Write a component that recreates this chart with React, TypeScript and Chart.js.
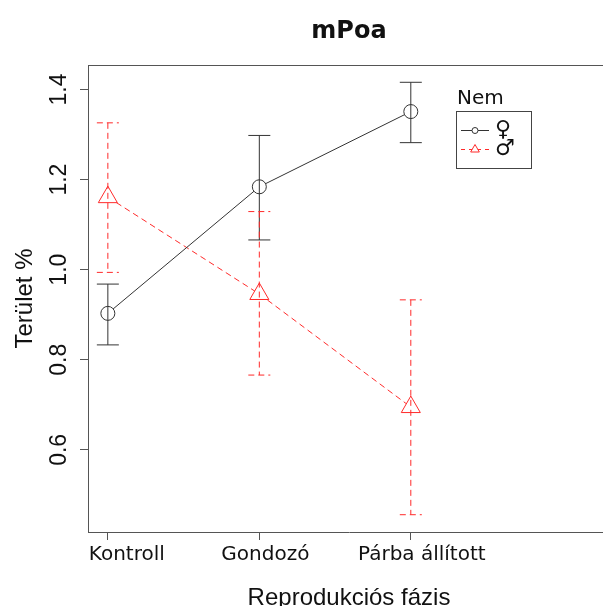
import React, { useEffect, useRef } from "react";
import { Chart, registerables } from "chart.js";

Chart.register(...registerables);

const categories = ["Kontroll", "Gondozó", "Párba állított"];
const seriesNames = ["♀", "♂"];
const femaleMean = [0.903, 1.184, 1.351];
const femaleUpper = [0.968, 1.298, 1.416];
const femaleLower = [0.833, 1.066, 1.282];
const maleMean = [1.161, 0.946, 0.695];
const maleUpper = [1.326, 1.129, 0.933];
const maleLower = [0.994, 0.766, 0.456];
const yTicks = [0.6, 0.8, 1.0, 1.2, 1.4];
const yTickLabels = ["0.6", "0.8", "1.0", "1.2", "1.4"];

const TITLE = "mPoa";
const X_TITLE = "Reprodukciós fázis";
const Y_TITLE = "Terület %";
const LEGEND_TITLE = "Nem";

const FEMALE_COLOR = "#333333";
const MALE_COLOR = "#ff2a2a";
const AXIS_COLOR = "#555555";
const MALE_DASH = [6, 4];
const xLabelShift = [19, 6, 11];

export default function App() {
  const ref = useRef<HTMLCanvasElement | null>(null);

  useEffect(() => {
    if (!ref.current) return;

    const overlay = {
      id: "overlay",
      afterDatasetsDraw(chart: any) {
        const { ctx, scales } = chart;
        const x = scales.x;
        const y = scales.y;
        const drawBars = (lo: number[], hi: number[], color: string, dash: number[]) => {
          ctx.save();
          ctx.strokeStyle = color;
          ctx.lineWidth = 1;
          ctx.setLineDash(dash);
          const cap = 11;
          for (let i = 0; i < categories.length; i++) {
            const px = x.getPixelForValue(i + 1);
            const pt = y.getPixelForValue(hi[i]);
            const pb = y.getPixelForValue(lo[i]);
            ctx.beginPath();
            ctx.moveTo(px, pt);
            ctx.lineTo(px, pb);
            ctx.moveTo(px - cap, pt);
            ctx.lineTo(px + cap, pt);
            ctx.moveTo(px - cap, pb);
            ctx.lineTo(px + cap, pb);
            ctx.stroke();
          }
          ctx.restore();
        };
        drawBars(femaleLower, femaleUpper, FEMALE_COLOR, []);
        drawBars(maleLower, maleUpper, MALE_COLOR, MALE_DASH);
      },
      afterDraw(chart: any) {
        const { ctx, chartArea, scales } = chart;
        const x = scales.x;
        const y = scales.y;
        const cx = (chartArea.left + chartArea.right) / 2;
        const cy = (chartArea.top + chartArea.bottom) / 2;
        ctx.save();
        // top border
        ctx.strokeStyle = AXIS_COLOR;
        ctx.lineWidth = 1;
        ctx.beginPath();
        ctx.moveTo(chartArea.left, Math.round(chartArea.top) + 0.5);
        ctx.lineTo(chartArea.right, Math.round(chartArea.top) + 0.5);
        ctx.stroke();

        ctx.fillStyle = "#111";
        // main title
        ctx.font = "bold 24px 'DejaVu Sans'";
        ctx.textAlign = "center";
        ctx.textBaseline = "alphabetic";
        ctx.fillText(TITLE, cx, 38);

        // x tick labels
        ctx.font = "20px 'DejaVu Sans'";
        categories.forEach((c, i) => {
          ctx.fillText(c, x.getPixelForValue(i + 1) + xLabelShift[i], 560);
        });

        // x title
        ctx.font = "24px 'Liberation Sans'";
        ctx.fillText(X_TITLE, cx, 605);

        // y tick labels (rotated)
        ctx.font = "23px 'Liberation Sans'";
        yTicks.forEach((v, i) => {
          const py = y.getPixelForValue(v);
          ctx.save();
          ctx.translate(66, py);
          ctx.rotate(-Math.PI / 2);
          ctx.textAlign = "center";
          ctx.fillText(yTickLabels[i], 0, 0);
          ctx.restore();
        });

        // y title
        ctx.font = "24px 'Liberation Sans'";
        ctx.save();
        ctx.translate(32, cy);
        ctx.rotate(-Math.PI / 2);
        ctx.textAlign = "center";
        ctx.fillText(Y_TITLE, 0, 0);
        ctx.restore();

        // legend
        ctx.font = "20px 'DejaVu Sans'";
        ctx.textAlign = "left";
        ctx.fillText(LEGEND_TITLE, 457, 104);
        ctx.strokeStyle = "#444";
        ctx.lineWidth = 1;
        ctx.strokeRect(456.5, 111.5, 75, 57);
        const rows = [
          { yy: 130.5, color: FEMALE_COLOR, dash: [] as number[], shape: "circle" },
          { yy: 149.5, color: MALE_COLOR, dash: [4, 4], shape: "triangle" },
        ];
        rows.forEach((r, i) => {
          ctx.save();
          ctx.strokeStyle = r.color;
          ctx.setLineDash(r.dash);
          ctx.beginPath();
          ctx.moveTo(461, r.yy);
          ctx.lineTo(489, r.yy);
          ctx.stroke();
          ctx.setLineDash([]);
          ctx.fillStyle = "#fff";
          ctx.beginPath();
          if (r.shape === "circle") {
            ctx.arc(475, r.yy, 3, 0, Math.PI * 2);
          } else {
            const rr = 5;
            ctx.moveTo(475, r.yy - rr);
            ctx.lineTo(475 + rr * 0.866, r.yy + rr / 2);
            ctx.lineTo(475 - rr * 0.866, r.yy + rr / 2);
            ctx.closePath();
          }
          ctx.fill();
          ctx.stroke();
          ctx.restore();
          ctx.font = "22px 'DejaVu Sans'";
          ctx.fillStyle = "#111";
          ctx.textBaseline = "middle";
          ctx.fillText(seriesNames[i], 495, r.yy);
          ctx.textBaseline = "alphabetic";
        });
        ctx.restore();
      },
    };

    const zeroPad = (s: any) => {
      s.paddingLeft = 0;
      s.paddingRight = 0;
      s.paddingTop = 0;
      s.paddingBottom = 0;
    };

    const chart = new Chart(ref.current, {
      type: "line",
      data: {
        datasets: [
          {
            label: seriesNames[0],
            data: categories.map((_, i) => ({ x: i + 1, y: femaleMean[i] })),
            borderColor: FEMALE_COLOR,
            borderWidth: 1,
            pointStyle: "circle",
            pointRadius: 7,
            pointBorderColor: FEMALE_COLOR,
            pointBackgroundColor: "#ffffff",
            pointBorderWidth: 1,
            tension: 0,
          },
          {
            label: seriesNames[1],
            data: categories.map((_, i) => ({ x: i + 1, y: maleMean[i] })),
            borderColor: MALE_COLOR,
            borderWidth: 1,
            borderDash: MALE_DASH,
            pointStyle: "triangle",
            pointRadius: 11,
            pointBorderColor: MALE_COLOR,
            pointBackgroundColor: "#ffffff",
            pointBorderWidth: 1,
            tension: 0,
          },
        ],
      },
      options: {
        animation: false,
        responsive: false,
        layout: { autoPadding: false, padding: { top: 65, left: 0, right: 0, bottom: 0 } },
        plugins: {
          legend: { display: false },
          title: { display: false },
          tooltip: { enabled: false },
        },
        scales: {
          x: {
            type: "linear",
            min: 0.869,
            max: 4.315,
            afterBuildTicks: (s: any) => {
              s.ticks = categories.map((_, i) => ({ value: i + 1 }));
            },
            afterFit: (s: any) => {
              s.height = 74;
              zeroPad(s);
            },
            ticks: { display: false },
            grid: {
              display: true,
              drawOnChartArea: false,
              drawTicks: true,
              tickLength: 8,
              color: AXIS_COLOR,
            },
            border: { display: true, color: AXIS_COLOR },
          },
          y: {
            type: "linear",
            min: 0.4176,
            max: 1.4544,
            afterBuildTicks: (s: any) => {
              s.ticks = yTicks.map((v) => ({ value: v }));
            },
            afterFit: (s: any) => {
              s.width = 88;
              zeroPad(s);
            },
            ticks: { display: false },
            grid: {
              display: true,
              drawOnChartArea: false,
              drawTicks: true,
              tickLength: 8,
              color: AXIS_COLOR,
            },
            border: { display: true, color: AXIS_COLOR },
          },
        },
      },
      plugins: [overlay],
    } as any);

    return () => chart.destroy();
  }, []);

  return (
    <div
      style={{
        position: "absolute",
        left: 0,
        top: 0,
        width: 603,
        height: 606,
        overflow: "hidden",
        background: "#fff",
      }}
    >
      <canvas ref={ref} width={610} height={606} style={{ width: 610, height: 606 }} />
    </div>
  );
}
